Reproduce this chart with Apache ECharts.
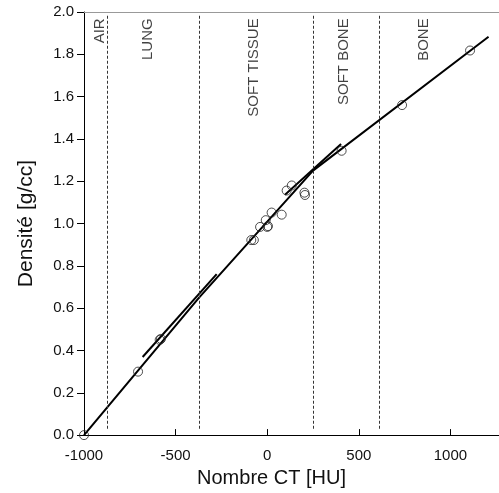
<!DOCTYPE html>
<html>
<head>
<meta charset="utf-8">
<script src="https://cdn.jsdelivr.net/npm/echarts@6/dist/echarts.min.js"></script>
<style>html,body{margin:0;padding:0;background:#fff}#c{width:499px;height:493px}</style>
</head>
<body>
<div id="c"></div>
<script>
// Measured points (CT number HU, density g/cc)
var pointHU   = [-1000, -705, -587, -580, -87, -73, -39, 0, 4, -8, 24, 79, 106, 134, 203, 206, 406, 736, 1107];
var pointDens = [0.00, 0.30, 0.45, 0.455, 0.922, 0.922, 0.984, 0.984, 0.988, 1.016, 1.052, 1.042, 1.156, 1.180, 1.146, 1.135, 1.344, 1.560, 1.818];
// Piecewise calibration curve
var fitHU   = [-1000, -372, 250, 1208];
var fitDens = [0.00, 0.65, 1.25, 1.883];
// Local fit segments
var lungHU = [-680, -276];
var lungDens = [0.369, 0.761];
var sbHU = [97, 403];
var sbDens = [1.136, 1.376];
// Region boundaries and labels
var boundaryHU = [-875, -372, 250, 610];
var regionNames = ['AIR', 'LUNG', 'SOFT TISSUE', 'SOFT BONE', 'BONE'];
var regionHU = [-913, -651, -72, 419, 856];
var xTicks = [-1000, -500, 0, 500, 1000];
var yTicks = [0.0, 0.2, 0.4, 0.6, 0.8, 1.0, 1.2, 1.4, 1.6, 1.8, 2.0];

function zip(a, b) { return a.map(function (v, i) { return [v, b[i]]; }); }

var FONT = 'Liberation Sans, Arial, sans-serif';
var chart = echarts.init(document.getElementById('c'), null, {renderer: 'canvas'});
chart.setOption({
  animation: false,
  backgroundColor: '#fff',
  grid: {left: 84, top: 12, right: 0, bottom: 55, containLabel: false},
  xAxis: [{
    type: 'value', min: -1000, max: 1265, interval: 500,
    axisLine: {show: true, onZero: false, lineStyle: {color: '#000', width: 1}},
    axisTick: {show: true, inside: true, length: 6, lineStyle: {color: '#000'}},
    axisLabel: {margin: 13, color: '#111', fontSize: 15, fontFamily: FONT, showMaxLabel: false,
      formatter: function (v) { return String(v); }},
    splitLine: {show: false},
    name: 'Nombre CT [HU]', nameLocation: 'middle', nameGap: 31,
    nameTextStyle: {fontSize: 20, color: '#111', fontFamily: FONT, padding: [0, 40, 0, 0]}
  }, {
    type: 'value', position: 'top', min: -1000, max: 1265,
    axisLine: {show: true, onZero: false, lineStyle: {color: '#999', width: 1}},
    axisTick: {show: false}, axisLabel: {show: false}, splitLine: {show: false}
  }],
  yAxis: {
    type: 'value', min: 0, max: 2, interval: 0.2,
    axisLine: {show: true, onZero: false, lineStyle: {color: '#000', width: 1}},
    axisTick: {show: true, inside: false, length: 7, lineStyle: {color: '#000'}},
    axisLabel: {margin: 10, color: '#111', fontSize: 15, fontFamily: FONT,
      formatter: function (v) { return v.toFixed(1); }},
    splitLine: {show: false},
    name: 'Densité [g/cc]', nameLocation: 'middle', nameGap: 47, nameRotate: 90,
    nameTextStyle: {fontSize: 21, color: '#111', fontFamily: FONT}
  },
  series: [
    {
      type: 'line', data: zip(fitHU, fitDens), symbol: 'none',
      lineStyle: {color: '#000', width: 2}, z: 3,
      markLine: {
        silent: true, symbol: 'none', animation: false,
        lineStyle: {color: '#333', width: 1, type: [3, 2]},
        label: {show: false},
        data: boundaryHU.map(function (h) { return [{coord: [h, 0.03]}, {coord: [h, 1.985]}]; })
      }
    },
    {type: 'line', data: zip(lungHU, lungDens), symbol: 'none', lineStyle: {color: '#000', width: 2}, z: 3},
    {type: 'line', data: zip(sbHU, sbDens), symbol: 'none', lineStyle: {color: '#000', width: 2}, z: 3},
    {
      type: 'scatter', data: zip(pointHU, pointDens), symbol: 'circle', symbolSize: 9,
      itemStyle: {color: 'rgba(0,0,0,0)', borderColor: '#222', borderWidth: 1}, z: 4
    },
    {
      type: 'scatter', symbolSize: 0, silent: true,
      data: regionHU.map(function (h, i) { return {value: [h, 1.97], name: regionNames[i]}; }),
      label: {show: true, position: 'inside', rotate: 90, align: 'right', verticalAlign: 'middle',
        formatter: function (p) { return p.name; }, fontSize: 15, color: '#111', fontFamily: FONT}
    }
  ]
});
</script>
</body>
</html>
